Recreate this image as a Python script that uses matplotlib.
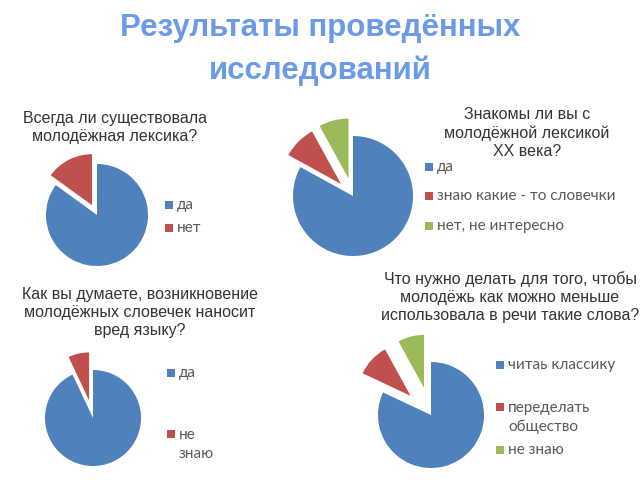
import matplotlib.pyplot as plt
from matplotlib.patches import Rectangle

# данные опроса (%)
q1_title = "Всегда ли существовала\nмолодёжная лексика?"
q1_labels = ["да", "нет"]
q1_values = [85, 15]

q2_title = "Знакомы ли вы с\nмолодёжной лексикой\nXX века?"
q2_labels = ["да", "знаю какие - то словечки", "нет, не интересно"]
q2_values = [83, 9, 8]

q3_title = "Как вы думаете, возникновение\nмолодёжных словечек наносит\nвред языку?"
q3_labels = ["да", "не\nзнаю"]
q3_values = [93, 7]

q4_title = "Что нужно делать для того, чтобы\nмолодёжь как можно меньше\nиспользовала в речи такие слова?"
q4_labels = ["читаь классику", "переделать\nобщество", "не знаю"]
q4_values = [82, 10, 8]

colors = ["#4F81BD", "#C0504D", "#9BBB59"]
W, H = 640, 480

fig = plt.figure(figsize=(6.4, 4.8), dpi=100)
ax = fig.add_axes([0, 0, 1, 1])

def y(v):
    # координаты картинки -> координаты осей
    return H - v

# заголовок
ax.text(320, y(28), "Результаты проведённых", ha="center", va="center",
        fontsize=22.5, fontweight="bold", color="#6A9AE8", family="Liberation Sans")
ax.text(320, y(71), "исследований", ha="center", va="center",
        fontsize=22.5, fontweight="bold", color="#6A9AE8", family="Liberation Sans")

# (данные, подписи, заголовок, центр, радиус, смещения долей, позиция заголовка, легенда x, легенда y)
charts = [
    (q1_values, q1_labels, q1_title, (97, 215), 51, [0, 11], (115, 128), 165, [205, 228]),
    (q2_values, q2_labels, q2_title, (353, 196), 60, [0, 17, 18], (527, 133), 425, [167, 196, 226]),
    (q3_values, q3_labels, q3_title, (93, 418), 48, [0, 18], (140, 313), 167, [373, 434]),
    (q4_values, q4_labels, q4_title, (431, 415), 53, [0, 28, 28], (510, 297), 496, [365, 407, 450]),
]

for vals, labels, title, (cx, cy), r, expl, (tx, ty), lx, lys in charts:
    ax.pie(vals, colors=colors[:len(vals)], center=(cx, y(cy)), radius=r,
           explode=expl, startangle=90, counterclock=False, frame=True,
           wedgeprops=dict(linewidth=0))
    ax.text(tx, y(ty), title, ha="center", va="center", fontsize=11.5,
            color="#333333", family="Liberation Sans", linespacing=1.25)
    for lab, col, ly in zip(labels, colors, lys):
        ax.add_patch(Rectangle((lx, y(ly) - 4), 8, 8, color=col, lw=0))
        if "\n" in lab:
            ax.text(lx + 12, y(ly - 6), lab, ha="left", va="top",
                    fontsize=11, color="#595959", family="Lato", linespacing=1.45)
        else:
            ax.text(lx + 12, y(ly), lab, ha="left", va="center",
                    fontsize=11, color="#595959", family="Lato")

ax.set_xlim(0, W)
ax.set_ylim(0, H)
ax.set_aspect("auto")
ax.axis("off")

plt.savefig("out.png", dpi=100)
plt.close()
